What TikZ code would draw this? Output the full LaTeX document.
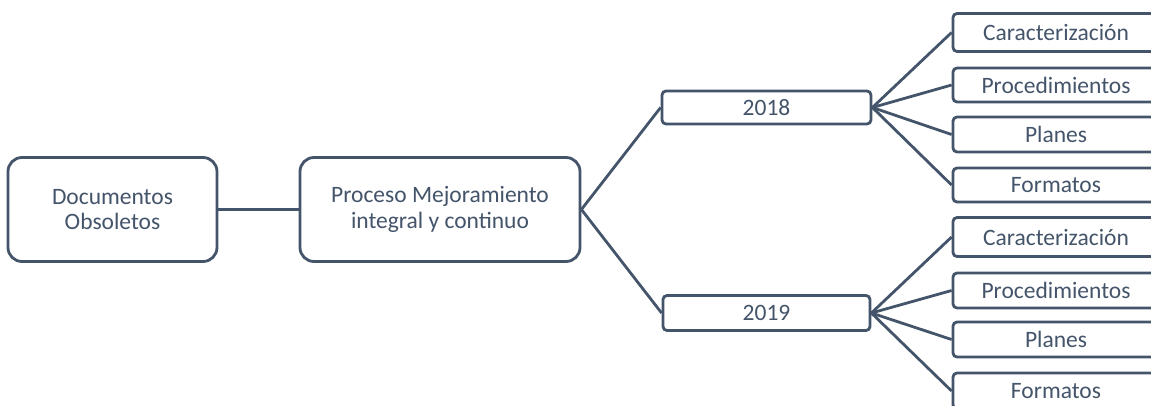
\documentclass[tikz,border=0pt]{standalone}
\usepackage{fontspec}
\setmainfont{Carlito}
\definecolor{slate}{HTML}{44546A}
\begin{document}
\begin{tikzpicture}[x=1pt,y=-1pt,
  bigbox/.style={draw=slate, line width=2.8pt, rounded corners=14pt, fill=white, text=slate, font=\fontsize{23.5}{25.5}\selectfont, align=center, inner sep=0pt},
  yearbox/.style={draw=slate, line width=2.8pt, rounded corners=4pt, fill=white, text=slate, font=\fontsize{23.5}{25.5}\selectfont, inner sep=0pt},
  leafbox/.style={draw=slate, line width=2.8pt, rounded corners=4pt, fill=white, text=slate, font=\fontsize{23.5}{25.5}\selectfont, inner sep=0pt},
  link/.style={draw=slate, line width=2.8pt}]
\useasboundingbox (0,0) rectangle (1151,405);
\clip (0,0) rectangle (1151,405);
% main boxes
\node[bigbox, minimum width=209pt, minimum height=104pt] (doc) at (112.5,209.5) {Documentos\\Obsoletos};
\node[bigbox, minimum width=280pt, minimum height=104pt] (proc) at (440,209.5) {Proceso Mejoramiento\\integral y continuo};
% years
\node[yearbox, minimum width=209pt, minimum height=33pt] (y18) at (766.5,107.5) {2018};
\node[yearbox, minimum width=207pt, minimum height=35pt] (y19) at (766.5,313) {2019};
% leaves 2018
\node[leafbox, minimum width=206pt, minimum height=38pt] (a1) at (1056,32.5) {Caracterización};
\node[leafbox, minimum width=206pt, minimum height=34pt] (a2) at (1056,85) {Procedimientos};
\node[leafbox, minimum width=206pt, minimum height=35pt] (a3) at (1056,134.5) {Planes};
\node[leafbox, minimum width=206pt, minimum height=34pt] (a4) at (1056,185) {Formatos};
% leaves 2019
\node[leafbox, minimum width=206pt, minimum height=39pt] (b1) at (1056,237) {Caracterización};
\node[leafbox, minimum width=206pt, minimum height=35pt] (b2) at (1056,290.5) {Procedimientos};
\node[leafbox, minimum width=206pt, minimum height=35pt] (b3) at (1056,339.5) {Planes};
\node[leafbox, minimum width=206pt, minimum height=36pt, text depth=0pt] (b4) at (1056,391) {Formatos};
% connectors
\draw[link] (doc.east) -- (proc.west);
\draw[link] (proc.east) -- (y18.west);
\draw[link] (proc.east) -- (y19.west);
\foreach \n in {a1,a2,a3,a4} \draw[link] (y18.east) -- (\n.west);
\foreach \n in {b1,b2,b3,b4} \draw[link] (y19.east) -- (\n.west);
\end{tikzpicture}
\end{document}
